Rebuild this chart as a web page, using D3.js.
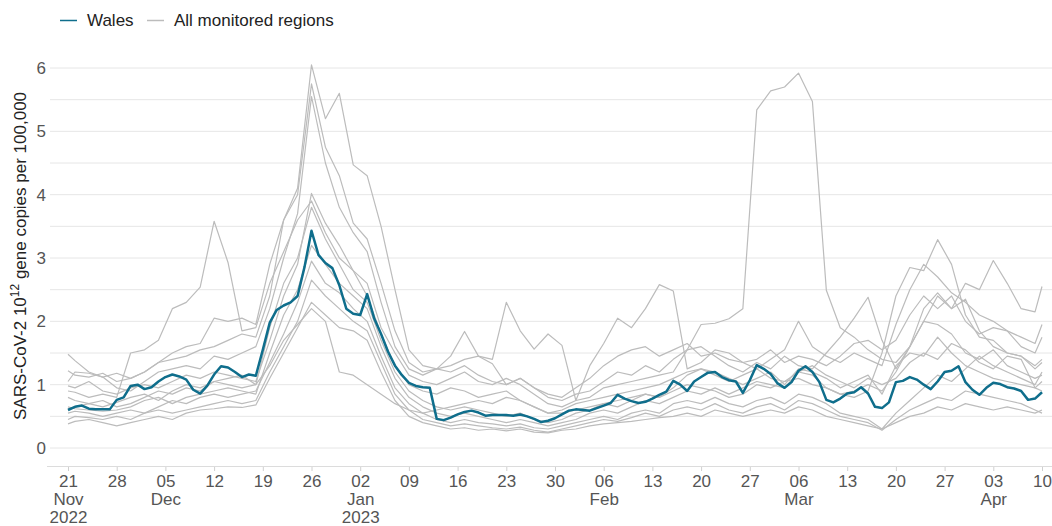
<!DOCTYPE html>
<html>
<head>
<meta charset="utf-8">
<script src="https://cdn.jsdelivr.net/npm/d3@7"></script>
<style>
  body { margin: 0; background: #fff; }
  svg { font-family: "Liberation Sans", Arial, sans-serif; }
</style>
</head>
<body>
<svg id="chart" width="1052" height="526"></svg>
<script>
// ---- data ----
const startDate = new Date(Date.UTC(2022, 10, 21));   // 21 Nov 2022
const endDate = new Date(Date.UTC(2023, 3, 10));      // 10 Apr 2023

// Wales, one value per day from 21 Nov 2022 (day 0) to 10 Apr 2023 (day 140)
const walesValues = [
  0.60, 0.65, 0.67, 0.62, 0.61, 0.61, 0.61, 0.76, 0.80, 0.98,
  1.00, 0.93, 0.96, 1.05, 1.12, 1.16, 1.13, 1.08, 0.92, 0.86,
  0.98, 1.16, 1.29, 1.27, 1.20, 1.12, 1.16, 1.14, 1.55, 1.98,
  2.18, 2.25, 2.30, 2.40, 2.86, 3.43, 3.05, 2.92, 2.84, 2.57,
  2.20, 2.12, 2.10, 2.43, 2.05, 1.80, 1.52, 1.30, 1.15, 1.03,
  0.98, 0.96, 0.95, 0.46, 0.44, 0.48, 0.53, 0.57, 0.59, 0.56,
  0.51, 0.52, 0.52, 0.52, 0.51, 0.53, 0.50, 0.46, 0.41, 0.43,
  0.47, 0.53, 0.59, 0.61, 0.60, 0.59, 0.63, 0.67, 0.71, 0.84,
  0.78, 0.74, 0.71, 0.73, 0.78, 0.84, 0.89, 1.06, 1.00, 0.90,
  1.05, 1.12, 1.19, 1.20, 1.12, 1.07, 1.05, 0.87, 1.07, 1.31,
  1.25, 1.17, 1.02, 0.95, 1.04, 1.22, 1.29, 1.20, 1.04, 0.76,
  0.72, 0.78, 0.86, 0.88, 0.96, 0.86, 0.65, 0.63, 0.72, 1.04,
  1.06, 1.12, 1.08, 1.00, 0.93, 1.05, 1.20, 1.22, 1.29, 1.04,
  0.92, 0.84, 0.95, 1.03, 1.01, 0.96, 0.94, 0.90, 0.76, 0.78,
  0.88
];

// other regions are read every second day: day 0, 1, 3, 5 ... 139, then day 140
const regionDays = [0].concat(d3.range(1, 140, 2), [140]);

const regionA = [
  1.48, 1.38, 1.20, 1.12, 1.18, 1.10, 1.20, 1.35, 1.50, 1.60, 1.65, 2.05,
  2.00, 2.05, 1.95, 2.90, 3.60, 4.10, 6.05, 5.20, 5.60, 4.47, 4.30, 3.50,
  2.50, 1.55, 1.30, 1.25, 1.45, 1.84, 1.45, 1.33, 1.00, 1.10, 0.95, 0.85,
  0.80, 0.95, 1.10, 1.30, 1.45, 1.55, 1.60, 1.45, 1.55, 1.65, 1.45, 1.50,
  1.40, 1.35, 1.25, 1.40, 1.55, 2.00, 1.60, 1.45, 1.35, 1.50, 1.40, 1.30,
  1.95, 2.50, 2.90, 2.70, 2.45, 2.30, 2.10, 2.00, 1.85, 1.75, 1.65, 1.95
];
const regionB = [
  1.22, 1.15, 1.12, 1.18, 1.05, 1.10, 1.20, 1.35, 1.40, 1.45, 1.55, 1.60,
  1.70, 1.80, 1.75, 2.40, 3.60, 4.00, 5.75, 4.75, 4.30, 3.55, 3.30, 2.60,
  1.85, 1.35, 1.20, 1.25, 1.30, 1.40, 1.45, 1.40, 2.30, 1.85, 1.56, 1.80,
  1.62, 0.75, 1.30, 1.65, 2.05, 1.90, 2.20, 2.58, 2.48, 1.25, 1.35, 1.55,
  1.50, 1.35, 1.40, 1.55, 1.35, 1.45, 1.40, 1.30, 1.45, 1.65, 1.70, 1.55,
  1.70, 2.10, 2.40, 2.20, 2.40, 2.00, 1.80, 1.90, 1.85, 1.60, 1.50, 1.75
];
const regionC = [
  1.05, 1.20, 1.18, 1.12, 0.95, 0.90, 1.05, 1.20, 1.25, 1.30, 1.25, 1.45,
  1.40, 1.50, 1.60, 2.20, 3.00, 3.70, 5.55, 4.50, 3.80, 3.40, 3.10, 2.30,
  1.60, 1.25, 1.15, 1.25, 1.20, 1.30, 1.15, 1.05, 1.00, 1.10, 0.95, 0.80,
  0.75, 0.85, 0.90, 1.05, 1.20, 1.15, 1.30, 1.20, 1.40, 1.55, 1.60, 1.45,
  1.30, 1.20, 1.35, 1.25, 1.45, 1.30, 1.25, 1.50, 1.75, 2.05, 2.38, 1.70,
  1.25, 1.60, 2.20, 2.45, 2.20, 2.35, 1.85, 1.60, 1.50, 1.45, 1.25, 1.35
];
const regionD = [
  0.98, 0.95, 1.05, 0.90, 0.85, 0.95, 1.00, 0.95, 1.05, 1.15, 1.10, 1.20,
  1.15, 1.10, 1.05, 1.70, 2.40, 2.90, 4.02, 3.55, 3.20, 2.80, 2.60, 1.90,
  1.50, 1.15, 1.05, 1.00, 1.10, 1.20, 1.05, 1.00, 1.10, 1.00, 0.85, 0.70,
  0.65, 0.75, 0.80, 0.95, 1.00, 1.05, 1.10, 1.15, 1.20, 1.55, 1.95, 1.97,
  2.04, 2.20, 5.34, 5.64, 5.70, 5.92, 5.47, 2.49, 1.90, 1.75, 1.55, 1.40,
  1.35, 1.60, 2.00, 1.95, 1.80, 1.50, 1.40, 1.55, 1.30, 1.20, 1.10, 1.15
];
const regionE = [
  0.90, 0.88, 0.80, 0.85, 0.80, 1.50, 1.55, 1.70, 2.20, 2.30, 2.54, 3.58,
  2.93, 1.85, 1.90, 2.60, 3.10, 3.60, 3.90, 3.40, 3.00, 2.80, 2.40, 1.80,
  1.30, 1.00, 0.90, 0.85, 0.95, 0.90, 0.80, 0.85, 0.90, 0.75, 0.65, 0.55,
  0.55, 0.60, 0.65, 0.70, 0.75, 0.80, 0.85, 0.80, 0.95, 1.15, 1.25, 1.20,
  1.10, 1.00, 1.10, 1.20, 1.00, 1.25, 1.20, 1.10, 0.95, 1.05, 1.15, 0.85,
  1.30, 1.50, 1.45, 1.75, 1.50, 1.30, 1.20, 1.10, 1.05, 1.00, 0.95, 1.05
];
const regionF = [
  0.80, 0.75, 0.70, 0.75, 0.65, 0.70, 0.80, 0.90, 0.85, 0.95, 0.90, 1.05,
  1.00, 0.95, 1.00, 1.90, 2.60, 3.00, 3.80, 3.30, 2.90, 2.50, 2.30, 1.70,
  1.20, 0.90, 0.75, 0.65, 0.60, 0.65, 0.60, 0.55, 0.50, 0.55, 0.45, 0.40,
  0.45, 0.55, 0.60, 0.70, 0.65, 0.75, 0.85, 0.80, 0.90, 1.00, 0.95, 0.90,
  0.80, 0.85, 1.00, 0.95, 1.05, 1.10, 1.00, 0.95, 0.85, 0.80, 0.90, 1.50,
  2.40, 2.85, 2.80, 3.29, 2.90, 2.10, 1.75, 1.70, 1.50, 1.45, 1.30, 1.40
];
const regionG = [
  0.65, 0.62, 0.60, 0.58, 0.60, 0.65, 0.75, 0.80, 0.70, 0.80, 0.85, 0.90,
  0.95, 0.90, 0.85, 1.50, 2.10, 2.50, 3.20, 2.90, 2.60, 2.40, 2.20, 1.60,
  1.10, 0.80, 0.65, 0.55, 0.50, 0.55, 0.50, 0.45, 0.40, 0.45, 0.40, 0.35,
  0.40, 0.45, 0.55, 0.60, 0.55, 0.65, 0.75, 0.70, 0.80, 0.90, 0.85, 0.95,
  0.85, 0.95, 1.05, 1.00, 0.95, 1.20, 1.15, 0.95, 0.85, 0.90, 1.00, 0.90,
  1.20, 1.60, 2.00, 2.40, 2.20, 2.60, 2.50, 2.96, 2.60, 2.20, 2.15, 2.55
];
const regionH = [
  0.55, 0.58, 0.55, 0.50, 0.55, 0.60, 0.55, 0.65, 0.75, 0.70, 0.80, 0.85,
  0.80, 0.85, 0.90, 1.35, 1.80, 2.30, 2.95, 2.60, 2.45, 2.20, 2.00, 1.45,
  0.95, 0.70, 0.55, 0.45, 0.40, 0.45, 0.40, 0.38, 0.35, 0.38, 0.32, 0.30,
  0.35, 0.40, 0.45, 0.50, 0.45, 0.55, 0.60, 0.55, 0.70, 0.75, 0.70, 0.80,
  0.70, 0.65, 0.75, 0.80, 0.70, 0.85, 0.80, 0.70, 0.55, 0.50, 0.45, 0.30,
  0.55, 0.75, 0.95, 1.15, 1.05, 1.25, 1.45, 1.30, 1.20, 1.10, 1.00, 1.20
];
const regionI = [
  0.45, 0.50, 0.48, 0.45, 0.50, 0.45, 0.55, 0.60, 0.55, 0.60, 0.65, 0.70,
  0.75, 0.70, 0.75, 1.20, 1.60, 2.00, 2.65, 2.40, 2.20, 2.00, 1.85, 1.35,
  0.85, 0.60, 0.45, 0.40, 0.35, 0.38, 0.35, 0.32, 0.30, 0.33, 0.28, 0.25,
  0.30, 0.35, 0.40, 0.45, 0.42, 0.48, 0.55, 0.50, 0.60, 0.65, 0.60, 0.70,
  0.60, 0.55, 0.65, 0.70, 0.60, 0.75, 0.70, 0.60, 0.50, 0.45, 0.40, 0.28,
  0.45, 0.60, 0.70, 0.80, 0.75, 0.90, 0.85, 0.80, 0.75, 0.70, 0.60, 0.55
];
const regionJ = [
  0.38, 0.42, 0.45, 0.40, 0.35, 0.40, 0.45, 0.50, 0.45, 0.55, 0.60, 0.62,
  0.65, 0.64, 0.68, 1.10, 1.50, 1.90, 2.30, 2.10, 1.90, 1.85, 1.70, 1.20,
  0.75, 0.50, 0.40, 0.35, 0.30, 0.32, 0.28, 0.30, 0.27, 0.30, 0.25, 0.24,
  0.28, 0.30, 0.35, 0.38, 0.40, 0.42, 0.45, 0.48, 0.50, 0.55, 0.50, 0.60,
  0.55, 0.50, 0.55, 0.60, 0.55, 0.65, 0.60, 0.50, 0.45, 0.40, 0.35, 0.30,
  0.40, 0.50, 0.55, 0.65, 0.60, 0.70, 0.65, 0.60, 0.65, 0.60, 0.55, 0.60
];
const regionK = [
  0.62, 0.65, 0.70, 0.65, 0.72, 0.80, 0.85, 0.75, 0.90, 1.00, 0.95, 1.05,
  1.10, 1.15, 1.00, 1.30, 1.70, 1.95, 2.20, 2.00, 1.20, 1.15, 1.00, 0.85,
  0.70, 0.60, 0.55, 0.60, 0.65, 0.70, 0.75, 0.70, 0.80, 0.75, 0.65, 0.55,
  0.60, 0.70, 0.75, 0.80, 0.85, 0.90, 0.95, 1.00, 1.10, 1.20, 1.25, 1.15,
  1.05, 1.15, 1.25, 1.10, 1.05, 1.20, 1.30, 1.15, 1.05, 0.95, 1.10, 1.00,
  1.10, 1.35, 1.50, 1.40, 1.65, 1.55, 1.35, 1.25, 1.45, 1.40, 0.95, 0.90
];

const yTicks = [0, 1, 2, 3, 4, 5, 6];
const yGrid = d3.range(0, 6.01, 0.5);

// ---- layout ----
const svg = d3.select("#chart");
const tealColor = "#0f6e8c";
const greyColor = "#bcbcbc";
const fontSize = 17;

const x = d3.scaleUtc().domain([startDate, endDate]).range([68, 1042]);
const y = d3.scaleLinear().domain([-0.2842, 6]).range([466, 68]);

const dayToDate = d => d3.utcDay.offset(startDate, d);

// grid lines
svg.append("g").selectAll("line")
  .data(yGrid)
  .enter().append("line")
    .attr("x1", 50).attr("x2", 1052)
    .attr("y1", d => y(d)).attr("y2", d => y(d))
    .attr("stroke", "#e6e6e6").attr("stroke-width", 1);

// baseline
svg.append("line")
  .attr("x1", 47).attr("x2", 1052)
  .attr("y1", 466.5).attr("y2", 466.5)
  .attr("stroke", "#dcdcdc");

// y tick labels
svg.append("g").selectAll("text")
  .data(yTicks)
  .enter().append("text")
    .attr("x", 46)
    .attr("y", d => y(d))
    .attr("dy", "0.35em")
    .attr("text-anchor", "end")
    .attr("font-size", fontSize)
    .attr("fill", "#555")
    .text(d => d);

// y title
const yTitle = svg.append("text")
  .attr("transform", "translate(26,256) rotate(-90)")
  .attr("text-anchor", "middle")
  .attr("font-size", fontSize)
  .attr("fill", "#222");
yTitle.append("tspan").text("SARS-CoV-2 10");
yTitle.append("tspan").attr("dy", -7).attr("font-size", 12).text("12");
yTitle.append("tspan").attr("dy", 7).text(" gene copies per 100,000");

// x axis
const mondays = d3.utcMonday.range(startDate, d3.utcDay.offset(endDate, 1));
const monthFirst = new Set();
let lastMonth = -1;
mondays.forEach((d, i) => {
  if (d.getUTCMonth() !== lastMonth) { monthFirst.add(i); lastMonth = d.getUTCMonth(); }
});

const xAxis = d3.axisBottom(x)
  .tickValues(mondays)
  .tickSize(4)
  .tickFormat(d3.utcFormat("%d"));

const gx = svg.append("g")
  .attr("transform", "translate(0,467)")
  .call(xAxis);
gx.select(".domain").remove();
gx.selectAll(".tick line").attr("stroke", "#d0d0d0");
gx.selectAll(".tick text")
  .attr("font-size", fontSize)
  .attr("font-family", "Liberation Sans, Arial, sans-serif")
  .attr("fill", "#555")
  .attr("y", 8)
  .attr("dy", "0.71em")
  .each(function(d, i) {
    if (!monthFirst.has(i)) return;
    const t = d3.select(this);
    t.append("tspan").attr("x", 0).attr("dy", 18).text(d3.utcFormat("%b")(d));
    if (i === 0 || d.getUTCMonth() === 0) {
      t.append("tspan").attr("x", 0).attr("dy", 17.5).text(d3.utcFormat("%Y")(d));
    }
  });

// lines
const line = d3.line()
  .x(d => x(d.date))
  .y(d => y(d.value));

const regions = [regionA, regionB, regionC, regionD, regionE, regionF,
                 regionG, regionH, regionI, regionJ, regionK];

const regionSeries = regions.map(vals =>
  vals.map((v, i) => ({ date: dayToDate(regionDays[i]), value: v })));
const walesSeries = walesValues.map((v, i) => ({ date: dayToDate(i), value: v }));

svg.append("g").selectAll("path")
  .data(regionSeries.concat([walesSeries]))
  .enter().append("path")
    .attr("d", line)
    .attr("fill", "none")
    .attr("stroke", greyColor)
    .attr("stroke-width", 1.2)
    .attr("stroke-linejoin", "round");

svg.append("path")
  .datum(walesSeries)
  .attr("d", line)
  .attr("fill", "none")
  .attr("stroke", tealColor)
  .attr("stroke-width", 2.5)
  .attr("stroke-linejoin", "round");

// legend
const legend = svg.append("g").attr("font-size", fontSize).attr("fill", "#222");
const legendItems = [
  { label: "Wales", color: tealColor, x: 60 },
  { label: "All monitored regions", color: greyColor, x: 147 }
];
legendItems.forEach(item => {
  legend.append("line")
    .attr("x1", item.x).attr("x2", item.x + 17)
    .attr("y1", 20.5).attr("y2", 20.5)
    .attr("stroke", item.color).attr("stroke-width", 1.5);
  legend.append("text")
    .attr("x", item.x + 27).attr("y", 26)
    .text(item.label);
});
</script>
</body>
</html>
